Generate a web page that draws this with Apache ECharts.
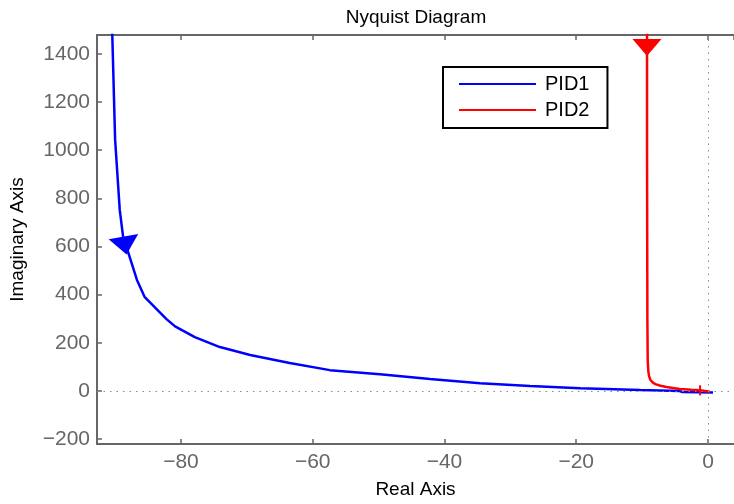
<!DOCTYPE html>
<html>
<head>
<meta charset="utf-8">
<script src="https://cdn.jsdelivr.net/npm/echarts@6/dist/echarts.min.js"></script>
<style>html,body{margin:0;padding:0;background:#fff}#c{width:734px;height:504px}</style>
</head>
<body>
<div id="c"></div>
<script>
// Nyquist curve PID1: [real, imaginary]
var pid1 = [
  [-90.45, 1500], [-90.0, 1044], [-89.3, 753], [-88.8, 643], [-88.0, 574],
  [-86.7, 462], [-85.5, 389], [-82.2, 298], [-80.9, 268], [-77.9, 223],
  [-74.1, 182], [-69.5, 149], [-63.5, 116], [-57.4, 86], [-49.8, 69],
  [-42.2, 49], [-34.6, 32], [-27.0, 20], [-19.4, 11], [-10.3, 3],
  [-4.3, -1], [-3.9, -5], [0.76, -7]
];
// Nyquist curve PID2
var pid2 = [
  [-9.25, 1500], [-9.25, 1000], [-9.2, 300], [-9.15, 130], [-9.05, 80],
  [-8.95, 62], [-8.75, 46], [-8.4, 35], [-8.0, 28], [-7.2, 21],
  [-6.3, 16], [-4.3, 8], [-2.5, 4], [-1.2, 2], [0.3, -4]
];
// direction arrows
var arrow1 = [[-88.5, 604]];
var arrow2 = [[-9.26, 1427]];
var arrow2small = [[-1.2, 2]];
var xRange = [-92.75, 3.95];
var yRange = [-221, 1479];
var xStep = 20, yStep = 200;

var FONT = 'Liberation Sans, Arial, Helvetica, sans-serif';
var AX = '#666666';

function fmt(step) {
  return function (v) {
    if (Math.abs(v / step - Math.round(v / step)) > 1e-6) return '';
    return String(Math.round(v)).replace('-', '\u2212');
  };
}

var chart = echarts.init(document.getElementById('c'), null, {renderer: 'canvas'});
chart.setOption({
  animation: false,
  backgroundColor: '#fff',
  title: {
    text: 'Nyquist Diagram',
    left: 416, top: 8, textAlign: 'center', padding: 0,
    textStyle: {fontFamily: FONT, fontSize: 19, fontWeight: 'normal', color: '#000'}
  },
  legend: {
    data: ['PID1', 'PID2'],
    orient: 'vertical',
    left: 443, top: 67,
    padding: [7, 18, 8, 16],
    itemGap: 6,
    itemWidth: 77, itemHeight: 2,
    icon: 'rect',
    itemStyle: {opacity: 1},
    borderColor: '#000', borderWidth: 2, borderRadius: 0,
    backgroundColor: '#fff',
    textStyle: {fontFamily: FONT, fontSize: 20, color: '#000', padding: [0, 0, 0, 4]}
  },
  grid: {left: 97, top: 35, right: 0, bottom: 59, containLabel: false},
  xAxis: [{
    type: 'value', min: xRange[0], max: xRange[1],
    splitNumber: 5, minInterval: xStep, maxInterval: xStep,
    name: 'Real Axis', nameLocation: 'middle', nameGap: 36,
    nameTextStyle: {fontFamily: FONT, fontSize: 19, color: '#000'},
    axisLine: {show: true, onZero: false, lineStyle: {color: AX, width: 2}},
    axisTick: {show: true, inside: true, length: 5, lineStyle: {color: AX, width: 1.5}},
    axisLabel: {show: true, margin: 8, color: AX, fontFamily: FONT, fontSize: 21,
      showMinLabel: false, showMaxLabel: false, formatter: fmt(xStep)},
    splitLine: {show: false}
  }, {
    type: 'value', position: 'top', min: xRange[0], max: xRange[1],
    splitNumber: 5, minInterval: xStep, maxInterval: xStep,
    axisLine: {show: true, onZero: false, lineStyle: {color: AX, width: 2}},
    axisTick: {show: true, inside: true, length: 5, lineStyle: {color: AX, width: 1.5}},
    axisLabel: {show: false},
    splitLine: {show: false}
  }],
  yAxis: [{
    type: 'value', min: yRange[0], max: yRange[1],
    splitNumber: 8, minInterval: yStep, maxInterval: yStep,
    name: 'Imaginary Axis', nameLocation: 'middle', nameGap: 70,
    nameTextStyle: {fontFamily: FONT, fontSize: 19, color: '#000'},
    axisLine: {show: true, onZero: false, lineStyle: {color: AX, width: 2}},
    axisTick: {show: true, inside: true, length: 5, lineStyle: {color: AX, width: 1.5}},
    axisLabel: {show: true, margin: 7, color: AX, fontFamily: FONT, fontSize: 21,
      showMinLabel: false, showMaxLabel: false, formatter: fmt(yStep)},
    splitLine: {show: false}
  }],
  series: [{
    name: 'PID1', type: 'line', data: pid1, showSymbol: false, symbol: 'none',
    lineStyle: {color: '#0000ff', width: 2.5}, itemStyle: {color: '#0000ff'},
    z: 3,
    markLine: {
      silent: true, symbol: 'none', label: {show: false},
      lineStyle: {color: '#8a8a8a', type: [1.5, 5], width: 1},
      data: [{xAxis: 0}, {yAxis: 0}]
    }
  }, {
    name: 'PID2', type: 'line', data: pid2, showSymbol: false, symbol: 'none',
    lineStyle: {color: '#ff0000', width: 2.5}, itemStyle: {color: '#ff0000'},
    z: 4
  }, {
    name: 'a1', type: 'scatter', data: arrow1, symbol: 'triangle',
    symbolSize: [30, 18], symbolRotate: 190, itemStyle: {color: '#0000ff', opacity: 1}, z: 5
  }, {
    name: 'a2', type: 'scatter', data: arrow2, symbol: 'triangle',
    symbolSize: [29, 17], symbolRotate: 180, itemStyle: {color: '#ff0000', opacity: 1}, z: 5
  }, {
    name: 'a3', type: 'scatter', data: arrow2small, symbol: 'rect',
    symbolSize: [2, 10], itemStyle: {color: '#ff0000', opacity: 1}, z: 5
  }]
});
</script>
</body>
</html>
